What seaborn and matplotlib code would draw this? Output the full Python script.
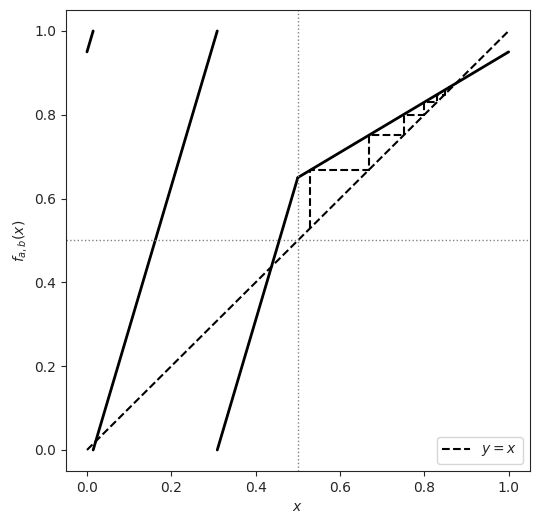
import matplotlib
matplotlib.use("Agg")
import matplotlib.pyplot as plt
import seaborn as sns

# piecewise map segments (endpoints)
seg1_x = [0.0, 0.0147]
seg1_y = [0.95, 1.0]
seg2_x = [0.0147, 0.309]
seg2_y = [0.0, 1.0]
seg3_x = [0.309, 0.5]
seg3_y = [0.0, 0.65]
seg4_x = [0.5, 1.0]
seg4_y = [0.65, 0.95]

# diagonal y = x
diag = [0.0, 1.0]

# cobweb iterates starting at x0 = 0.53
iterates = [0.53, 0.668, 0.751, 0.800, 0.830, 0.848, 0.859, 0.865]

sns.set_style("ticks")
plt.rcParams["font.family"] = ["DejaVu Sans"]

fig = plt.figure(figsize=(5.4, 5.25), dpi=100)
ax = fig.add_axes([0.122, 0.103, 0.859, 0.878])

for sx, sy in [(seg1_x, seg1_y), (seg2_x, seg2_y), (seg3_x, seg3_y), (seg4_x, seg4_y)]:
    sns.lineplot(x=sx, y=sy, color="black", lw=2, ax=ax, sort=False)

ax.plot(diag, diag, "k--", lw=1.5, label="$y = x$")

cx, cy = [iterates[0]], [iterates[0]]
for a, b in zip(iterates[:-1], iterates[1:]):
    cx += [a, b]
    cy += [b, b]
ax.plot(cx, cy, "k--", lw=1.5)

ax.axvline(0.5, color="gray", ls=":", lw=1)
ax.axhline(0.5, color="gray", ls=":", lw=1)

ax.set_xlim(-0.05, 1.05)
ax.set_ylim(-0.05, 1.05)
ax.set_xlabel("$x$")
ax.set_ylabel("$f_{a,b}(x)$")
ax.legend(loc="lower right")

fig.savefig("out.png", dpi=100)
